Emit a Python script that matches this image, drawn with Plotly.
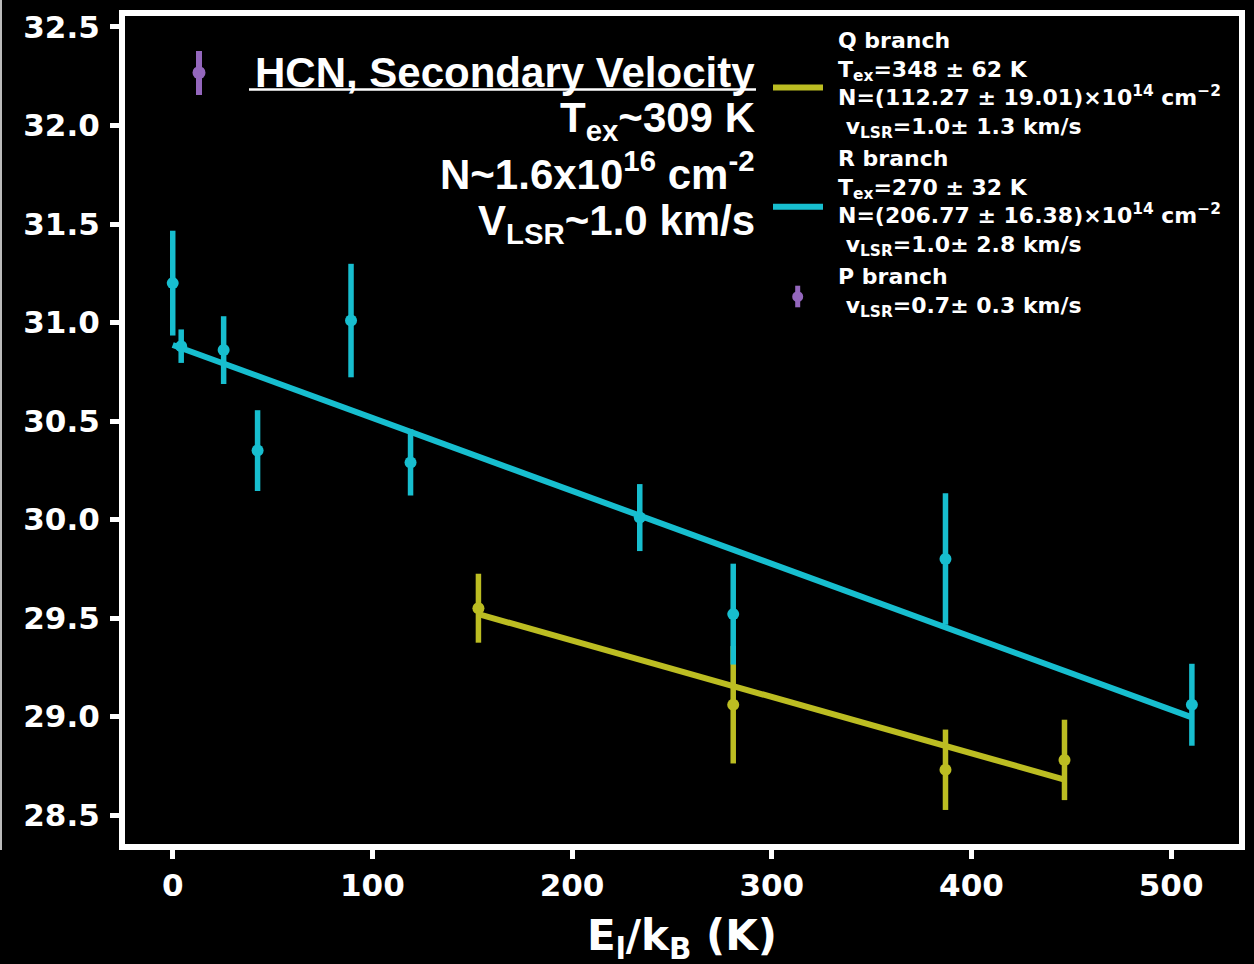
import plotly.graph_objects as go

# ---------------- data ----------------
R_x = [0.0, 4.25, 25.5, 42.5, 89.3, 119.1, 233.9, 280.7, 387.0, 510.4]
R_y = [31.20, 30.88, 30.86, 30.35, 31.01, 30.29, 30.01, 29.52, 29.80, 29.06]
R_err = [0.266, 0.085, 0.172, 0.205, 0.288, 0.168, 0.170, 0.256, 0.334, 0.208]

Q_x = [153.1, 280.7, 387.0, 446.6]
Q_y = [29.55, 29.06, 28.73, 28.78]
Q_err = [0.175, 0.298, 0.204, 0.204]

R_fit_x = [0.0, 510.4]
R_fit_y = [30.886, 28.996]
Q_fit_x = [153.1, 446.6]
Q_fit_y = [29.52, 28.68]

x_ticks = [0, 100, 200, 300, 400, 500]
y_ticks = [28.5, 29.0, 29.5, 30.0, 30.5, 31.0, 31.5, 32.0, 32.5]

CYAN = "#17becf"
OLIVE = "#bcbd22"
PURPLE = "#9467bd"

W, H = 1254, 964
PL, PR, PT, PB = 122, 1242, 13, 847


def px_x(p):
    return (p - PL) / (PR - PL)


def px_y(p):
    return (PB - p) / (PB - PT)


fig = go.Figure()

fig.add_trace(go.Scatter(x=Q_fit_x, y=Q_fit_y, mode="lines",
                         line=dict(color=OLIVE, width=6), showlegend=False,
                         hoverinfo="skip"))
fig.add_trace(go.Scatter(x=Q_x, y=Q_y, mode="markers",
                         marker=dict(color=OLIVE, size=12),
                         error_y=dict(type="data", array=Q_err, color=OLIVE,
                                      thickness=5.5, width=0),
                         showlegend=False))
fig.add_trace(go.Scatter(x=R_fit_x, y=R_fit_y, mode="lines",
                         line=dict(color=CYAN, width=6), showlegend=False,
                         hoverinfo="skip"))
fig.add_trace(go.Scatter(x=R_x, y=R_y, mode="markers",
                         marker=dict(color=CYAN, size=12),
                         error_y=dict(type="data", array=R_err, color=CYAN,
                                      thickness=5.5, width=0),
                         showlegend=False))

shapes = []
# frame
shapes.append(dict(type="rect", xref="paper", yref="paper", x0=0, x1=1, y0=0, y1=1,
                   line=dict(color="white", width=6), layer="above"))
# thin line at the left image edge
shapes.append(dict(type="line", xref="paper", yref="paper",
                   x0=px_x(1), x1=px_x(1), y0=px_y(0), y1=px_y(850),
                   line=dict(color="#bbbbbb", width=2)))
# underline of title
shapes.append(dict(type="line", xref="paper", yref="paper",
                   x0=px_x(249), x1=px_x(756), y0=px_y(89.5), y1=px_y(89.5),
                   line=dict(color="white", width=2.5)))


def errhandle(cx, cy, top, bot, r, width):
    shapes.append(dict(type="line", xref="paper", yref="paper",
                       x0=px_x(cx), x1=px_x(cx), y0=px_y(top), y1=px_y(bot),
                       line=dict(color=PURPLE, width=width)))
    shapes.append(dict(type="circle", xref="paper", yref="paper",
                       x0=px_x(cx - r), x1=px_x(cx + r), y0=px_y(cy + r), y1=px_y(cy - r),
                       fillcolor=PURPLE, line=dict(width=0)))


errhandle(199, 72.7, 51, 95, 6.5, 6)
errhandle(797.7, 296.7, 285.7, 307.3, 5.5, 5)

for yy, col in [(87.5, OLIVE), (206.7, CYAN)]:
    shapes.append(dict(type="line", xref="paper", yref="paper",
                       x0=px_x(773), x1=px_x(823), y0=px_y(yy), y1=px_y(yy),
                       line=dict(color=col, width=6)))

annotations = []
TFONT = dict(family="Liberation Sans", size=42, color="white", weight="bold")
left_lines = [
    ("HCN, Secondary Velocity", 72.5),
    ("T<sub>ex</sub>~309 K", 121),
    ("N~1.6x10<sup>16</sup> cm<sup>-2</sup>", 170.5),
    ("V<sub>LSR</sub>~1.0 km/s", 223),
]
for txt, yy in left_lines:
    annotations.append(dict(xref="paper", yref="paper", x=px_x(757), y=px_y(yy),
                            xanchor="right", yanchor="middle", text=txt,
                            showarrow=False, font=TFONT))

LFONT = dict(family="DejaVu Sans", size=22, color="white", weight="bold")
NB = "\u00a0"
leg_entries = [
    (["Q branch",
      "T<sub>ex</sub>=348 ± 62 K",
      "N=(112.27 ± 19.01)×10<sup>14</sup> cm<sup>−2</sup>",
      NB + "v<sub>LSR</sub>=1.0± 1.3 km/s"], 85),
    (["R branch",
      "T<sub>ex</sub>=270 ± 32 K",
      "N=(206.77 ± 16.38)×10<sup>14</sup> cm<sup>−2</sup>",
      NB + "v<sub>LSR</sub>=1.0± 2.8 km/s"], 203),
    (["P branch",
      NB + "v<sub>LSR</sub>=0.7± 0.3 km/s"], 292.5),
]
for lines, yy in leg_entries:
    annotations.append(dict(xref="paper", yref="paper", x=px_x(836), y=px_y(yy),
                            xanchor="left", yanchor="middle", align="left",
                            text="<br>".join(lines),
                            showarrow=False, font=LFONT))

# x-axis title (placed by pixel near the image bottom as in the original)
annotations.append(dict(xref="paper", yref="paper", x=0.5, y=px_y(909),
                        xanchor="center", yanchor="top",
                        text="E<sub>l</sub>/k<sub>B</sub> (K)", showarrow=False,
                        font=dict(family="DejaVu Sans", size=42, color="white", weight="bold")))

TICKFONT = dict(family="DejaVu Sans", size=31, color="white", weight="bold")

fig.update_layout(
    width=W, height=H,
    margin=dict(l=PL, r=W - PR, t=PT, b=H - PB, autoexpand=False),
    paper_bgcolor="black", plot_bgcolor="black",
    shapes=shapes, annotations=annotations,
    showlegend=False,
    xaxis=dict(range=[-25.4, 535.5], tickvals=x_ticks, ticktext=[str(v) for v in x_ticks],
               showgrid=False, zeroline=False, showline=False, automargin=False,
               ticks="outside", ticklen=11, tickwidth=5, tickcolor="white",
               tickfont=TICKFONT, ticklabelstandoff=0),
    yaxis=dict(range=[28.338, 32.571], tickvals=y_ticks, ticktext=[f"{v:.1f}" for v in y_ticks],
               showgrid=False, zeroline=False, showline=False, automargin=False,
               ticks="outside", ticklen=11, tickwidth=5, tickcolor="white",
               tickfont=TICKFONT, ticklabelstandoff=4),
)

fig.write_html("out.html")
